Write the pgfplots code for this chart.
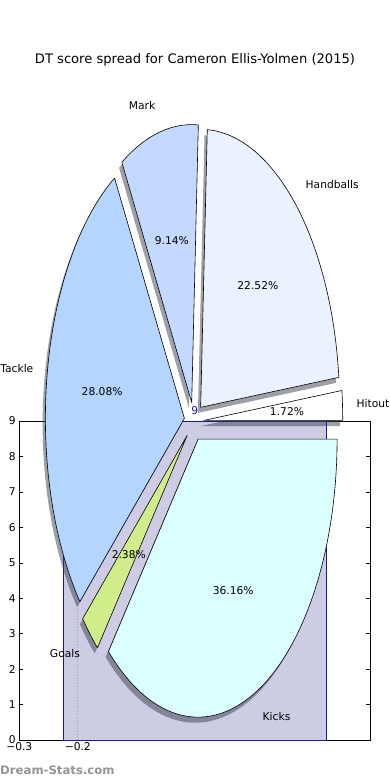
\documentclass[border=0pt]{standalone}
\usepackage{pgfplots}
\pgfplotsset{compat=1.18}
\usepackage{fontspec}
\setmainfont{DejaVu Sans}
\definecolor{cHit}{RGB}{255,255,255}
\definecolor{cHand}{RGB}{234,242,255}
\definecolor{cMark}{RGB}{196,217,255}
\definecolor{cTack}{RGB}{179,213,255}
\definecolor{cGoal}{RGB}{208,236,139}
\definecolor{cKick}{RGB}{219,255,255}
\definecolor{barfill}{RGB}{204,204,229}
\definecolor{baredge}{RGB}{25,25,150}
\definecolor{shadowcol}{RGB}{60,66,78}
\newcommand\lbl{\fontsize{10.7}{12}\selectfont}
% percentage / label / colour, counter-clockwise from east
\def\piedata{1.72/Hitout/cHit, 22.52/Handballs/cHand, 9.14/Mark/cMark, 28.08/Tackle/cTack, 2.38/Goals/cGoal, 36.16/Kicks/cKick}
\begin{document}
\begin{tikzpicture}
\useasboundingbox (0,0) rectangle (390pt,780pt);
% background bar axis
\begin{axis}[
  scale only axis, width=351pt, height=319pt,
  at={(19.3pt,40pt)}, anchor=south west,
  xmin=-0.3, xmax=0.3, ymin=0, ymax=9,
  xtick={-0.3,-0.2}, xticklabels={−0.3,−0.2},
  ytick={0,1,2,3,4,5,6,7,8,9},
  tick label style={font=\lbl},
  xticklabel style={yshift=1pt},
  /pgf/number format/assume math mode=true,
  major tick length=4pt,
  tick style={black, line width=0.5pt},
  axis line style={line width=0.8pt},
  clip=false,
]
\addplot[ybar, bar width=0.45, fill=barfill, draw=baredge, line width=0.8pt] coordinates {(0,9)};
\addplot[gray!70, dotted, line width=0.8pt] coordinates {(-0.2,0) (-0.2,9)};
\node[text=baredge, font=\lbl, anchor=south, yshift=2.5pt] at (axis cs:0,9) {9};
\end{axis}
% pie axis
\begin{axis}[
  hide axis, scale only axis, width=417pt, height=834pt,
  at={(-14.5pt,-58.5pt)}, anchor=south west,
  xmin=-1.5, xmax=1.5, ymin=-1.5, ymax=1.5,
  clip=false,
]
\addplot[draw=none] coordinates {(0,0)};
\pgfplotsextra{
  \xdef\cum{0}
  \foreach \v/\n/\c in \piedata {
    \pgfmathsetmacro\a{\cum}
    \pgfmathsetmacro\b{\cum+3.6*\v}
    \pgfmathsetmacro\m{(\a+\b)/2}
    \pgfmathsetmacro\ox{0.07*cos(\m)-0.02}
    \pgfmathsetmacro\oy{0.07*sin(\m)-0.02}
    \pgfmathsetmacro\px{\ox+cos(\a)}
    \pgfmathsetmacro\py{\oy+sin(\a)}
    \fill[shadowcol, fill opacity=0.5] (axis cs:\ox,\oy) -- (axis cs:\px,\py)
      arc[start angle=\a, end angle=\b, x radius=139pt, y radius=278pt] -- cycle;
    \xdef\cum{\b}
  }
  \xdef\cum{0}
  \foreach \v/\n/\c in \piedata {
    \pgfmathsetmacro\a{\cum}
    \pgfmathsetmacro\b{\cum+3.6*\v}
    \pgfmathsetmacro\m{(\a+\b)/2}
    \pgfmathsetmacro\ox{0.07*cos(\m)}
    \pgfmathsetmacro\oy{0.07*sin(\m)}
    \pgfmathsetmacro\px{\ox+cos(\a)}
    \pgfmathsetmacro\py{\oy+sin(\a)}
    \filldraw[fill=\c, draw=black, line width=0.6pt, line join=round] (axis cs:\ox,\oy) -- (axis cs:\px,\py)
      arc[start angle=\a, end angle=\b, x radius=139pt, y radius=278pt] -- cycle;
    \pgfmathsetmacro\lx{1.17*cos(\m)}
    \pgfmathsetmacro\ly{1.17*sin(\m)}
    \pgfmathsetmacro\qx{0.67*cos(\m)}
    \pgfmathsetmacro\qy{0.67*sin(\m)}
    \pgfmathtruncatemacro\isright{cos(\m)>0}
    \ifnum\isright=1
      \node[anchor=west, inner sep=0pt, font=\lbl] at (axis cs:\lx,\ly) {\n};
    \else
      \node[anchor=east, inner sep=0pt, font=\lbl] at (axis cs:\lx,\ly) {\n};
    \fi
    \node[inner sep=0pt, font=\lbl] at (axis cs:\qx,\qy) {\v\%};
    \xdef\cum{\b}
  }
}
\end{axis}
\node[font=\fontsize{13.1}{15}\selectfont] at (195pt,720pt) {DT score spread for Cameron Ellis-Yolmen (2015)};
\node[anchor=west, inner sep=0pt, text=black!42, font=\fontsize{11.7}{13}\selectfont\bfseries] at (0pt,10pt) {Dream-Stats.com};
\end{tikzpicture}
\end{document}
